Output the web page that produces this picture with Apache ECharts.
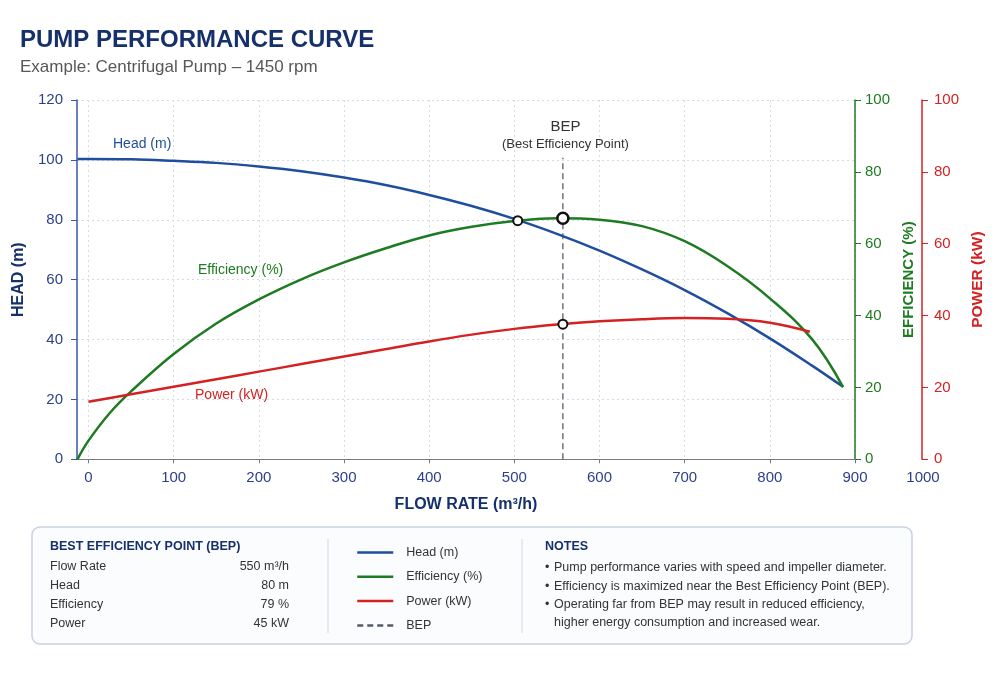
<!DOCTYPE html>
<html>
<head>
<meta charset="utf-8">
<script src="https://cdn.jsdelivr.net/npm/echarts@6/dist/echarts.min.js"></script>
<style>html,body{margin:0;padding:0;background:#fff}#c{width:1000px;height:700px}</style>
</head>
<body>
<div id="c"></div>
<script>
// ---------- DATA ----------
const xTickValues = [0, 100, 200, 300, 400, 500, 600, 700, 800, 900];

const headFlow   = [-13, 0, 50, 100, 150, 200, 250, 300, 350, 400, 450, 500, 550, 600, 650, 700, 750, 800, 850, 886];
const headValues = [100.3, 100.3, 100.2, 99.7, 99.0, 97.8, 96.2, 94.1, 91.5, 88.3, 84.6, 80.3, 75.3, 69.7, 63.4, 56.5, 48.8, 40.4, 31.2, 24.2];

const effFlow    = [-13, 0, 25, 50, 100, 150, 200, 250, 300, 350, 400, 450, 500, 550, 600, 650, 700, 750, 800, 850, 886];
const effValues  = [0, 5.2, 12.9, 18.9, 29.3, 37.8, 44.5, 50.1, 54.8, 58.8, 62.3, 64.7, 66.3, 67.1, 66.7, 64.9, 60.7, 53.8, 44.8, 33.3, 20.1];

const powerFlow   = [0, 50, 100, 150, 200, 250, 300, 350, 400, 450, 500, 550, 600, 650, 700, 750, 800, 847];
const powerValues = [16.0, 18.1, 20.2, 22.3, 24.4, 26.5, 28.6, 30.7, 32.8, 34.7, 36.3, 37.5, 38.4, 39.0, 39.3, 39.1, 38.0, 35.5];

const bepFlow = 557;
const bepLineHead = [0, 100.7];
const crossPoint = [504, 66.4];       // head/efficiency crossing (efficiency axis)
const bepEffPoint = [557, 67.1];      // efficiency axis
const bepPowerPoint = [557, 37.6];    // power axis

const seriesNames = ['Head (m)', 'Efficiency (%)', 'Power (kW)', 'BEP'];

const bepTableTitle = 'BEST EFFICIENCY POINT (BEP)';
const bepLabels = ['Flow Rate', 'Head', 'Efficiency', 'Power'];
const bepValues = ['550 m³/h', '80 m', '79 %', '45 kW'];

const notesTitle = 'NOTES';
const notes = [
  'Pump performance varies with speed and impeller diameter.',
  'Efficiency is maximized near the Best Efficiency Point (BEP).',
  'Operating far from BEP may result in reduced efficiency,\nhigher energy consumption and increased wear.'
];

// ---------- STYLE ----------
const FONT = '"Liberation Sans", Arial, Helvetica, sans-serif';
const NAVY = '#15306b';
const BLUE = '#1f4e9e';
const GREEN = '#1e7b22';
const RED = '#d42222';
const AXBLUE = '#2c3f8c';

const zip = (a, b) => a.map((v, i) => [v, b[i]]);

const chart = echarts.init(document.getElementById('c'), null, {renderer: 'canvas'});

const circle = (coord, size, bw) => ({
  coord, symbol: 'circle', symbolSize: size,
  itemStyle: {color: '#fff', borderColor: '#111', borderWidth: bw},
  label: {show: false}
});
const textMark = (coord, text, color, size) => ({
  coord, symbol: 'circle', symbolSize: 0,
  label: {show: true, position: 'inside', formatter: text, color, fontSize: size, fontFamily: FONT}
});

const graphic = [];
graphic.push({type: 'text', left: 20, top: 28, style: {text: 'PUMP PERFORMANCE CURVE', font: 'bold 24px ' + FONT, fill: NAVY}});
graphic.push({type: 'text', left: 20, top: 59, style: {text: 'Example: Centrifugal Pump \u2013 1450 rpm', font: '17px ' + FONT, fill: '#575757'}});
graphic.push({type: 'text', x: 923, y: 478, style: {text: '1000', font: '15px ' + FONT, fill: AXBLUE, align: 'center', verticalAlign: 'middle'}});

// panel
graphic.push({type: 'rect', shape: {x: 32, y: 527, width: 880, height: 117, r: 8}, style: {fill: '#fbfcfe', stroke: '#c9d1e2', lineWidth: 1.5}, z: -1});
graphic.push({type: 'line', shape: {x1: 328, y1: 539, x2: 328, y2: 633}, style: {stroke: '#d3d8e2', lineWidth: 1}});
graphic.push({type: 'line', shape: {x1: 522, y1: 539, x2: 522, y2: 633}, style: {stroke: '#d3d8e2', lineWidth: 1}});
graphic.push({type: 'text', x: 50, y: 547, style: {text: bepTableTitle, font: 'bold 12.5px ' + FONT, fill: NAVY, verticalAlign: 'middle'}});
bepLabels.forEach((l, i) => {
  const y = 567 + i * 18.7;
  graphic.push({type: 'text', x: 50, y, style: {text: l, font: '12.5px ' + FONT, fill: '#333', verticalAlign: 'middle'}});
  graphic.push({type: 'text', x: 289, y, style: {text: bepValues[i], font: '12.5px ' + FONT, fill: '#333', align: 'right', verticalAlign: 'middle'}});
});
graphic.push({type: 'text', x: 545, y: 547, style: {text: notesTitle, font: 'bold 12.5px ' + FONT, fill: NAVY, verticalAlign: 'middle'}});
let ny = 568;
notes.forEach((n) => {
  const lines = n.split('\n');
  graphic.push({type: 'text', x: 545, y: ny, style: {text: '\u2022', font: '12.5px ' + FONT, fill: '#333', verticalAlign: 'middle'}});
  lines.forEach((ln) => {
    graphic.push({type: 'text', x: 554, y: ny, style: {text: ln, font: '12.5px ' + FONT, fill: '#333', verticalAlign: 'middle'}});
    ny += 18.3;
  });
});

const option = {
  backgroundColor: '#ffffff',
  animation: false,
  textStyle: {fontFamily: FONT},
  grid: {left: 77, top: 100, width: 778, height: 359.3, containLabel: false},
  legend: {
    data: seriesNames, orient: 'vertical', left: 356, top: 546, padding: 0,
    itemWidth: 36, itemHeight: 12, itemGap: 11.3, selectedMode: false,
    lineStyle: {width: 2.5},
    itemStyle: {opacity: 0},
    textStyle: {fontSize: 12.5, color: '#333', fontFamily: FONT, padding: [0, 0, 0, 8]}
  },
  xAxis: {
    type: 'value', min: -13.5, max: 900,
    axisLine: {show: true, onZero: false, lineStyle: {color: '#7a7a7a', width: 1.2}},
    axisTick: {show: true, customValues: xTickValues, length: 4, lineStyle: {color: '#7a7a7a'}},
    axisLabel: {customValues: xTickValues, color: AXBLUE, fontSize: 15, margin: 11, fontFamily: FONT},
    splitLine: {show: true, lineStyle: {color: '#d6dbe4', type: [2, 3], width: 1}},
    name: 'FLOW RATE (m³/h)', nameLocation: 'middle', nameGap: 37,
    nameTextStyle: {color: NAVY, fontWeight: 'bold', fontSize: 16, fontFamily: FONT}
  },
  yAxis: [
    {
      type: 'value', position: 'left', min: 0, max: 120, interval: 20,
      axisLine: {show: true, onZero: false, lineStyle: {color: '#3a56a8', width: 1.5}},
      axisTick: {show: true, length: 6, lineStyle: {color: '#3a56a8'}},
      axisLabel: {color: AXBLUE, fontSize: 15, margin: 14, fontFamily: FONT},
      splitLine: {show: true, lineStyle: {color: '#d6dbe4', type: [2, 3], width: 1}},
      name: 'HEAD (m)', nameLocation: 'middle', nameGap: 47,
      nameTextStyle: {color: NAVY, fontWeight: 'bold', fontSize: 16, fontFamily: FONT}
    },
    {
      type: 'value', position: 'right', min: 0, max: 100, interval: 20,
      axisLine: {show: true, onZero: false, lineStyle: {color: GREEN, width: 1.5}},
      axisTick: {show: true, length: 6, lineStyle: {color: GREEN}},
      axisLabel: {color: GREEN, fontSize: 15, margin: 10, fontFamily: FONT},
      splitLine: {show: false},
      name: 'EFFICIENCY (%)', nameLocation: 'middle', nameGap: 38,
      nameTextStyle: {color: GREEN, fontWeight: 'bold', fontSize: 15, fontFamily: FONT}
    },
    {
      type: 'value', position: 'right', offset: 67, min: 0, max: 100, interval: 20,
      axisLine: {show: true, onZero: false, lineStyle: {color: RED, width: 1.5}},
      axisTick: {show: true, length: 6, lineStyle: {color: RED}},
      axisLabel: {color: RED, fontSize: 15, margin: 12, fontFamily: FONT},
      splitLine: {show: false},
      name: 'POWER (kW)', nameLocation: 'middle', nameGap: 47,
      nameTextStyle: {color: RED, fontWeight: 'bold', fontSize: 15.5, fontFamily: FONT}
    }
  ],
  series: [
    {
      name: seriesNames[0], type: 'line', yAxisIndex: 0, data: zip(headFlow, headValues),
      smooth: 0.4, symbol: 'none', lineStyle: {color: BLUE, width: 2.5}, itemStyle: {color: BLUE}, z: 3,
      markPoint: {data: [textMark([63, 105.1], 'Head (m)', BLUE, 14)], animation: false}
    },
    {
      name: seriesNames[1], type: 'line', yAxisIndex: 1, data: zip(effFlow, effValues),
      smooth: 0.4, symbol: 'none', lineStyle: {color: GREEN, width: 2.5}, itemStyle: {color: GREEN}, z: 3,
      markPoint: {data: [textMark([178.6, 52.7], 'Efficiency (%)', GREEN, 14), circle(crossPoint, 9, 2), circle(bepEffPoint, 11, 2.5)], animation: false, z: 10}
    },
    {
      name: seriesNames[2], type: 'line', yAxisIndex: 2, data: zip(powerFlow, powerValues),
      smooth: 0.4, symbol: 'none', lineStyle: {color: RED, width: 2.5}, itemStyle: {color: RED}, z: 3,
      markPoint: {data: [textMark([168, 17.9], 'Power (kW)', RED, 14), circle(bepPowerPoint, 9, 2)], animation: false, z: 10}
    },
    {
      name: seriesNames[3], type: 'line', yAxisIndex: 0, data: bepLineHead.map(v => [bepFlow, v]),
      symbol: 'none', lineStyle: {color: '#555c66', width: 1.3, type: [6, 4]}, itemStyle: {color: '#555c66'}, z: 2,
      markPoint: {data: [
        textMark([560, 111.1], 'BEP', '#333', 15),
        textMark([560, 105.1], '(Best Efficiency Point)', '#333', 13)
      ], animation: false}
    }
  ],
  graphic: graphic
};
chart.setOption(option);
</script>
</body>
</html>
